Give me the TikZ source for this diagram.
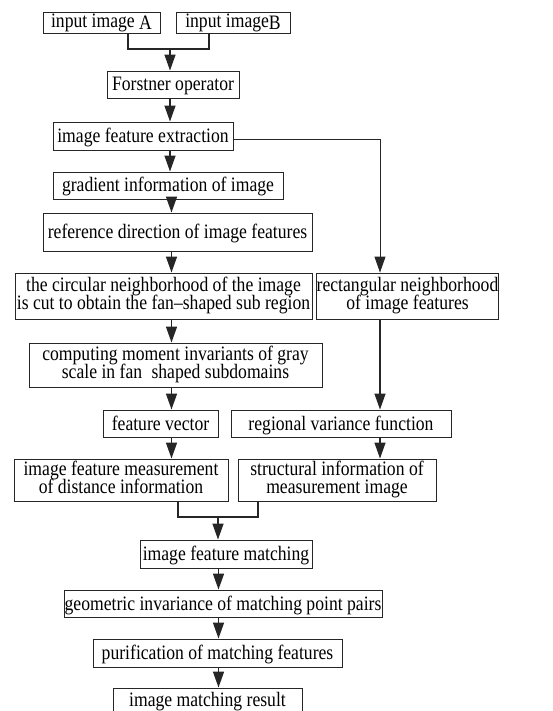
\documentclass[tikz,border=0pt]{standalone}
\usepackage{fontspec}
\setmainfont{Liberation Serif}[FakeStretch=0.86]
\usetikzlibrary{arrows.meta}
\usetikzlibrary{calc}
\usetikzlibrary{positioning}

\newcommand\boxfont{\fontsize{20.5}{18}\selectfont\lineskiplimit=-8pt\relax}

\tikzset{
  plainbox/.style={draw=black!85, line width=0.9pt, inner sep=0pt, align=center,
    font=\boxfont},
  box/.style={plainbox,
    execute at begin node={\rule{0pt}{17.5pt}},
    execute at end node={\rule[-4.5pt]{0pt}{0pt}}},
  flow/.style={draw=black!85, line width=1.4pt, -{Triangle[length=16pt,width=11pt]}},
  link/.style={draw=black!85, line width=1.4pt},
  thinlink/.style={draw=black!85, line width=0.9pt, -{Triangle[length=16pt,width=11pt]}},
}

\begin{document}
\begin{tikzpicture}[x=1pt,y=-1pt]
    \useasboundingbox (0,0) rectangle (553,711);

    % input images
    \node[plainbox, minimum width=117pt, minimum height=21pt] (inA) at (101.5,22.5) {input image \raisebox{-2.5pt}{A}};
    \node[plainbox, minimum width=114pt, minimum height=21pt] (inB) at (233,22.5) {input image\raisebox{-2.5pt}{B}};

    \node[box, minimum width=132pt, minimum height=27pt] (forstner) at (173,84.5) {Forstner operator};
    \node[box, minimum width=180pt, minimum height=28pt] (extract) at (143,136) {image feature extraction};

    % left branch
    \node[box, minimum width=230pt, minimum height=27pt] (gradient) at (168,185.5) {gradient information of image};
    \node[box, minimum width=269pt, minimum height=38pt] (refdir) at (177.5,232) {reference direction of image features};
    \node[box, minimum width=297pt, minimum height=46pt] (circular) at (163.5,296) {the circular neighborhood of the image\\is cut to obtain the fan--shaped sub region};
    \node[box, minimum width=293pt, minimum height=44pt] (moment) at (175.5,365) {computing moment invariants of gray\\scale in fan\hspace{5pt} shaped subdomains};
    \node[box, minimum width=115pt, minimum height=27pt] (fvec) at (160.5,423.5) {feature vector};
    \node[box, minimum width=214pt, minimum height=42pt] (measure) at (121,480) {image feature measurement\\of distance information};

    % right branch
    \node[box, minimum width=181pt, minimum height=46pt] (rectnb) at (407.5,296) {rectangular neighborhood\\of image features};
    \node[box, minimum width=220pt, minimum height=27pt] (regvar) at (341,423.5) {regional variance function};
    \node[box, minimum width=198pt, minimum height=42pt] (struct) at (337,480) {structural information of\\measurement image};

    % matching
    \node[box, minimum width=172pt, minimum height=28pt] (matching) at (226,554) {image feature matching};
    \node[box, minimum width=318pt, minimum height=27pt] (geometric) at (223,603.5) {geometric invariance of matching point pairs};
    \node[box, minimum width=249pt, minimum height=28pt] (purify) at (217.5,653) {purification of matching features};
    \node[box, minimum width=189pt, minimum height=24pt] (result) at (207.5,700) {image matching result};

    \coordinate (spine) at (171.5,0);
    \coordinate (rspine) at (380,0);
    \coordinate (mspine) at (218.5,0);
    \coordinate (joinAB) at (170,49);
    \coordinate (legA) at (128,0);
    \coordinate (legB) at (209,0);
    \coordinate (joinMS) at (218,517);
    \coordinate (legM) at (178,0);
    \coordinate (legS) at (258,0);

    \draw[link] (inA.south -| legA) |- (joinAB) -| (inB.south -| legB);
    \draw[flow] (joinAB) -- (forstner.north -| joinAB);
    \draw[flow] (forstner.south -| joinAB) -- (extract.north -| joinAB);
    \draw[flow] (extract.south -| joinAB) -- (gradient.north -| joinAB);
    \draw[flow] (gradient.south -| spine) -- (refdir.north -| spine);
    \draw[flow] (refdir.south -| spine) -- (circular.north -| spine);
    \draw[flow] (circular.south -| spine) -- (moment.north -| spine);
    \draw[flow] (moment.south -| spine) -- (fvec.north -| spine);
    \draw[flow] (fvec.south -| spine) -- (measure.north -| spine);

    \draw[thinlink] ($(extract.east)+(0,3)$) -| (rectnb.north -| rspine);
    \draw[flow] (rectnb.south -| rspine) -- (regvar.north -| rspine);
    \draw[flow] (regvar.south -| rspine) -- (struct.north -| rspine);

    \draw[link] (measure.south -| legM) |- (joinMS) -| (struct.south -| legS);
    \draw[flow] (joinMS) -- (matching.north -| joinMS);
    \draw[flow] (matching.south -| mspine) -- (geometric.north -| mspine);
    \draw[flow] (geometric.south -| mspine) -- (purify.north -| mspine);
    \draw[flow] (purify.south -| mspine) -- (result.north -| mspine);
\end{tikzpicture}
\end{document}
